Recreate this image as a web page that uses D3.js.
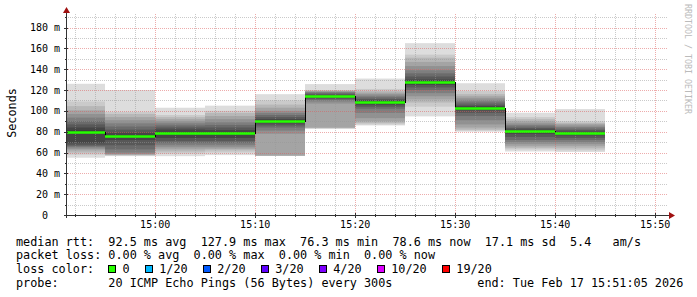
<!DOCTYPE html>
<html><head><meta charset="utf-8">
<script src="https://cdn.jsdelivr.net/npm/d3@7"></script>
<style>
html,body{margin:0;padding:0;background:#fff;}
svg{display:block;}
text{font-family:"DejaVu Sans Mono",monospace;white-space:pre;}
</style></head><body>
<svg id="chart" width="697" height="297"></svg>
<script>
// ---------- data ----------
const rangeStart = "2026-02-17 14:51:05";
const rangeEnd   = "2026-02-17 15:51:05";
const blockEnds = ["14:55","15:00","15:05","15:10","15:15","15:20","15:25","15:30","15:35","15:40","15:45"];
const medians   = [80.0, 76.3, 79.0, 78.5, 90.4, 113.8, 108.7, 127.9, 102.9, 80.5, 78.6];
const lossCounts = [0,0,0,0,0,0,0,0,0,0,0];
// 20 sorted ping rtts (ms) per 5-minute step
const pings = [
  [55, 58, 60, 62, 63.5, 65, 66, 67, 69, 79, 81, 84, 87, 90, 93.5, 97, 100.5, 104.5, 109, 126],
  [56.5, 57, 57.5, 58, 58.5, 60, 63, 67, 72, 76, 76.6, 79, 82, 85, 88, 91, 94, 97, 99, 120],
  [56.5, 59, 61, 63, 65, 67, 69, 71, 74, 78.5, 79.5, 82, 84, 86, 88, 90, 92, 94, 96, 103],
  [57.5, 60, 62, 63.5, 65, 67, 69, 71, 74, 78, 79, 81.5, 84, 86.5, 89, 92, 95, 98, 100, 105],
  [57, 57, 57, 57, 78, 81, 84, 86, 88, 90, 90.8, 92, 94, 96, 98, 100, 103, 106, 110, 116],
  [83, 83, 83.5, 84, 107, 109, 110.5, 111.5, 112.5, 113.5, 114.1, 115, 116, 117, 118, 118.5, 119, 119.5, 120, 125.7],
  [86, 87, 88.5, 90, 93, 98, 102, 104, 106, 108.2, 109.2, 110, 111.5, 113, 114.5, 116, 117.5, 119, 121, 131],
  [94.7, 104, 108, 111, 114, 117, 120, 122.5, 125, 127.5, 128.3, 130, 133, 136, 139, 143, 147, 151, 154, 165],
  [80, 81, 82, 84, 87, 91, 95, 98, 100.5, 102.5, 103.3, 104.5, 106, 108, 110, 112, 114, 116, 119, 126.5],
  [61, 63, 64.5, 66, 68, 70, 72, 75, 78, 80.2, 80.8, 82, 83.5, 85, 86.5, 88, 90, 92, 94, 98.2],
  [60.5, 62, 64, 66, 68, 70, 72, 74, 76.5, 78.3, 78.9, 80, 81.5, 83, 84.5, 86, 87.5, 88.5, 90, 101.7]
];
const yTicks = [0, 20, 40, 60, 80, 100, 120, 140, 160, 180];
const yTickLabels = ["0", "20 m", "40 m", "60 m", "80 m", "100 m", "120 m", "140 m", "160 m", "180 m"];
const yMinorTicks = [10, 30, 50, 70, 90, 110, 130, 150, 170, 190];
const rttStats = ["92.5", "127.9", "76.3", "78.6", "17.1", "5.4"];
const lossStats = ["0.00", "0.00", "0.00", "0.00"];
const lossLabels = ["0", "1/20", "2/20", "3/20", "4/20", "10/20", "19/20"];
const lossColors = ["#26ff00", "#00b8ff", "#0059ff", "#5e00ff", "#7e00ff", "#dd00ff", "#ff0000"];
const probeText = "probe:       20 ICMP Echo Pings (56 Bytes) every 300s";
const endText = "end: Tue Feb 17 15:51:05 2026";
const yTitle = "Seconds";
const watermark = "RRDTOOL / TOBI OETIKER";

// ---------- layout ----------
const svg = d3.select("#chart");
const X0 = 66, X1 = 666, Y0 = 215, YT = 14;
const parse = d3.utcParse("%Y-%m-%d %H:%M:%S");
const t0 = parse(rangeStart), t1 = parse(rangeEnd);
const x = d3.scaleUtc().domain([t0, t1]).range([X0, X1]);
const y = d3.scaleLinear().domain([0, 193]).range([Y0, YT]);
const endTimes = blockEnds.map(s => parse("2026-02-17 " + s + ":00"));

svg.append("defs").append("clipPath").attr("id","plotclip")
  .append("rect").attr("x", X0).attr("y", YT).attr("width", X1 - X0).attr("height", Y0 - YT);

const plot = svg.append("g").attr("clip-path","url(#plotclip)");

// smoke
const greys = d3.range(1, 11).map(k => { const c = Math.floor(190 / 10 * (10 - k)) + 50; return d3.rgb(c, c, c).formatHex(); });
endTimes.forEach((te, i) => {
  const ts = new Date(te.getTime() - 300000);
  const xa = Math.max(X0, Math.round(x(ts))), xb = Math.round(x(te));
  const p = pings[i];
  for (let k = 1; k <= 10; k++) {
    const lo = p[k - 1], hi = p[20 - k];
    plot.append("rect")
      .attr("x", xa).attr("width", xb - xa)
      .attr("y", y(hi)).attr("height", y(lo) - y(hi))
      .attr("fill", greys[k - 1]);
  }
});

// grid (drawn over smoke)
const gGrid = svg.append("g").attr("shape-rendering","crispEdges");
const minorT = d3.utcMinute.every(2).range(t0, t1).filter(d => d.getUTCMinutes() % 10 !== 0);
const majorT = d3.utcMinute.every(10).range(t0, t1);
minorT.forEach(d => gGrid.append("line").attr("x1", Math.round(x(d)) + 0.5).attr("x2", Math.round(x(d)) + 0.5)
  .attr("y1", YT).attr("y2", Y0).attr("stroke","rgba(150,150,150,0.5)").attr("stroke-dasharray","1,1"));
yMinorTicks.forEach(v => gGrid.append("line").attr("x1", X0).attr("x2", X1 + 2)
  .attr("y1", Math.round(y(v)) + 0.5).attr("y2", Math.round(y(v)) + 0.5)
  .attr("stroke","rgba(150,150,150,0.5)").attr("stroke-dasharray","1,1"));
majorT.forEach(d => gGrid.append("line").attr("x1", Math.round(x(d)) + 0.5).attr("x2", Math.round(x(d)) + 0.5)
  .attr("y1", YT).attr("y2", Y0).attr("stroke","rgba(220,90,90,0.5)").attr("stroke-dasharray","1,1"));
yTicks.filter(v => v > 0).forEach(v => gGrid.append("line").attr("x1", X0).attr("x2", X1 + 2)
  .attr("y1", Math.round(y(v)) + 0.5).attr("y2", Math.round(y(v)) + 0.5)
  .attr("stroke","rgba(220,90,90,0.5)").attr("stroke-dasharray","1,1"));

// median line (black step) and loss-coloured band
const pts = [];
endTimes.forEach((te, i) => {
  const ts = new Date(te.getTime() - 300000);
  pts.push([Math.max(X0, Math.round(x(ts))), Math.round(y(medians[i])) + 0.5]);
  pts.push([Math.round(x(te)), Math.round(y(medians[i])) + 0.5]);
});
svg.append("path").attr("d", d3.line()(pts)).attr("fill","none").attr("stroke","#000")
  .attr("stroke-width",1).attr("shape-rendering","crispEdges");
endTimes.forEach((te, i) => {
  const ts = new Date(te.getTime() - 300000);
  const xa = Math.max(X0, Math.round(x(ts))), xb = Math.round(x(te));
  const ym = Math.round(y(medians[i])) + 0.5;
  const ci = lossLabels.indexOf(String(lossCounts[i]));
  svg.append("rect").attr("x", xa).attr("width", xb - xa)
    .attr("y", ym - 1.25).attr("height", 2.5).attr("fill", lossColors[Math.max(0, ci)]);
});

// axes
const gAx = svg.append("g").attr("shape-rendering","crispEdges");
gAx.append("line").attr("x1", X0).attr("x2", 671).attr("y1", Y0 + 0.5).attr("y2", Y0 + 0.5).attr("stroke","#333");
gAx.append("line").attr("x1", X0 + 0.5).attr("x2", X0 + 0.5).attr("y1", Y0 + 3).attr("y2", 11).attr("stroke","#333");
yTicks.forEach(v => gAx.append("line").attr("x1", X0 - 2).attr("x2", X0 + 2)
  .attr("y1", Math.round(y(v)) + 0.5).attr("y2", Math.round(y(v)) + 0.5).attr("stroke","#333"));
yMinorTicks.forEach(v => gAx.append("line").attr("x1", X0 - 1).attr("x2", X0 + 1)
  .attr("y1", Math.round(y(v)) + 0.5).attr("y2", Math.round(y(v)) + 0.5).attr("stroke","#333"));
majorT.forEach(d => gAx.append("line").attr("x1", Math.round(x(d)) + 0.5).attr("x2", Math.round(x(d)) + 0.5)
  .attr("y1", Y0 - 2).attr("y2", Y0 + 3).attr("stroke","#333"));
minorT.forEach(d => gAx.append("line").attr("x1", Math.round(x(d)) + 0.5).attr("x2", Math.round(x(d)) + 0.5)
  .attr("y1", Y0 - 1).attr("y2", Y0 + 2).attr("stroke","#333"));
svg.append("path").attr("d", "M669,212L675,215.5L669,219Z").attr("fill","#a01010");
svg.append("path").attr("d", "M63,13L66.5,7L70,13Z").attr("fill","#a01010");

// tick labels
const fmt = d3.utcFormat("%H:%M");
majorT.forEach(d => svg.append("text").attr("x", x(d)).attr("y", 228).attr("text-anchor","middle")
  .attr("font-size","10px").attr("fill","#000").text(fmt(d)));
yTicks.forEach((v, i) => svg.append("text").attr("x", v === 0 ? 48 : 60).attr("y", y(v) + 3.6)
  .attr("text-anchor","end").attr("font-size","10px").attr("fill","#000").text(yTickLabels[i]));

// titles
svg.append("text").attr("transform","translate(15.5,113) rotate(-90)").attr("text-anchor","middle")
  .attr("font-size","11.8px").attr("fill","#000").text(yTitle);
svg.append("text").attr("transform","translate(685,4) rotate(90)").attr("text-anchor","start")
  .attr("font-size","8.3px").attr("fill","#bbbbbb").text(watermark);

// legend
const LX = 16, FS = "11.8px", CW = 7.1;
const line1 = `median rtt:  ${rttStats[0]} ms avg  ${rttStats[1]} ms max  ${rttStats[2]} ms min  ${rttStats[3]} ms now  ${rttStats[4]} ms sd  ${rttStats[5]}   am/s`;
const line2 = `packet loss: ${lossStats[0]} % avg  ${lossStats[1]} % max  ${lossStats[2]} % min  ${lossStats[3]} % now`;
svg.append("text").attr("x", LX).attr("y", 245.7).attr("font-size", FS).attr("fill","#000").text(line1);
svg.append("text").attr("x", LX).attr("y", 259.3).attr("font-size", FS).attr("fill","#000").text(line2);
svg.append("text").attr("x", LX).attr("y", 273.3).attr("font-size", FS).attr("fill","#000").text("loss color:");
let sx = 108.5;
lossLabels.forEach((lab, i) => {
  svg.append("rect").attr("x", sx).attr("y", 265.5).attr("width", 7).attr("height", 7)
    .attr("fill", lossColors[i]).attr("stroke","#000").attr("stroke-width",1).attr("shape-rendering","crispEdges");
  const tx = sx + 14;
  svg.append("text").attr("x", tx).attr("y", 273.3).attr("font-size", FS).attr("fill","#000").text(lab);
  sx = tx + lab.length * CW + 15.6;
});
svg.append("text").attr("x", LX).attr("y", 286.7).attr("font-size", FS).attr("fill","#000").text(probeText);
svg.append("text").attr("x", 477.3).attr("y", 286.7).attr("font-size", FS).attr("fill","#000").text(endText);
</script>
</body></html>
